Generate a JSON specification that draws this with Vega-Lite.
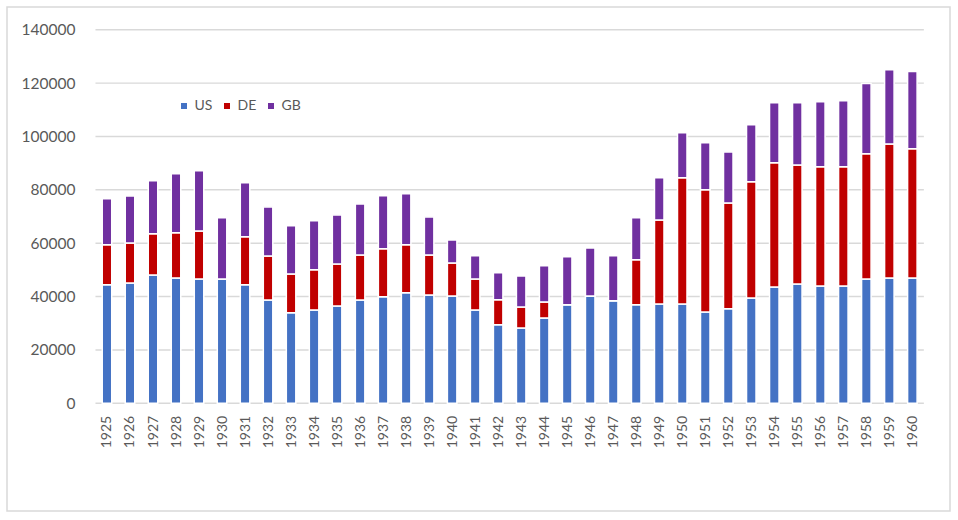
{
  "$schema": "https://vega.github.io/schema/vega-lite/v6.json",
  "width": 943,
  "height": 504,
  "autosize": {"type": "none"},
  "padding": {"left": 7, "top": 7, "right": 8, "bottom": 9},
  "background": "white",
  "config": {
    "view": {"stroke": "#d9d9d9", "strokeWidth": 1.5},
    "font": "Lato",
    "axis": {"labelFont": "Lato", "labelColor": "#595959", "labelOverlap": false, "domain": false, "ticks": false, "grid": false, "title": null},
    "axisX": {"labelAngle": -90, "labelFontSize": 14, "labelPadding": 12, "offset": -107.7, "labelFlush": false, "format": "d"},
    "axisY": {"labelFontSize": 15.5, "labelPadding": 16, "offset": -84, "format": "d"},
    "legend": {"labelFont": "Lato"}
  },
  "datasets": {
    "grid": [
      {"g": 0}, {"g": 20000}, {"g": 40000}, {"g": 60000},
      {"g": 80000}, {"g": 100000}, {"g": 120000}, {"g": 140000}
    ],
    "prod": [
      {"year": 1925, "US": 44400, "DE": 15000, "GB": 17250},
      {"year": 1926, "US": 45100, "DE": 15000, "GB": 17600},
      {"year": 1927, "US": 48100, "DE": 15400, "GB": 19900},
      {"year": 1928, "US": 47000, "DE": 16900, "GB": 22100},
      {"year": 1929, "US": 46600, "DE": 18000, "GB": 22500},
      {"year": 1930, "US": 46600, "DE": 0, "GB": 22900},
      {"year": 1931, "US": 44400, "DE": 18000, "GB": 20250},
      {"year": 1932, "US": 38700, "DE": 16500, "GB": 18400},
      {"year": 1933, "US": 33900, "DE": 14600, "GB": 18000},
      {"year": 1934, "US": 35000, "DE": 15000, "GB": 18400},
      {"year": 1935, "US": 36500, "DE": 15700, "GB": 18400},
      {"year": 1936, "US": 38700, "DE": 16900, "GB": 19100},
      {"year": 1937, "US": 39900, "DE": 18000, "GB": 19900},
      {"year": 1938, "US": 41400, "DE": 18000, "GB": 19100},
      {"year": 1939, "US": 40600, "DE": 15000, "GB": 14250},
      {"year": 1940, "US": 40200, "DE": 12400, "GB": 8600},
      {"year": 1941, "US": 35000, "DE": 11600, "GB": 8650},
      {"year": 1942, "US": 29400, "DE": 9400, "GB": 10100},
      {"year": 1943, "US": 28200, "DE": 7900, "GB": 11600},
      {"year": 1944, "US": 32000, "DE": 6000, "GB": 13500},
      {"year": 1945, "US": 36900, "DE": 0, "GB": 18000},
      {"year": 1946, "US": 40200, "DE": 0, "GB": 18000},
      {"year": 1947, "US": 38400, "DE": 0, "GB": 16900},
      {"year": 1948, "US": 36900, "DE": 16900, "GB": 15700},
      {"year": 1949, "US": 37200, "DE": 31500, "GB": 15800},
      {"year": 1950, "US": 37200, "DE": 47300, "GB": 16900},
      {"year": 1951, "US": 34200, "DE": 45800, "GB": 17600},
      {"year": 1952, "US": 35400, "DE": 39700, "GB": 19100},
      {"year": 1953, "US": 39500, "DE": 43500, "GB": 21400},
      {"year": 1954, "US": 43600, "DE": 46500, "GB": 22500},
      {"year": 1955, "US": 44700, "DE": 44600, "GB": 23300},
      {"year": 1956, "US": 44000, "DE": 44600, "GB": 24400},
      {"year": 1957, "US": 44000, "DE": 44600, "GB": 24800},
      {"year": 1958, "US": 46600, "DE": 46900, "GB": 26300},
      {"year": 1959, "US": 47000, "DE": 50200, "GB": 27800},
      {"year": 1960, "US": 47000, "DE": 48400, "GB": 28900}
    ]
  },
  "layer": [
    {
      "data": {"name": "grid"},
      "mark": {"type": "rule", "color": "#d9d9d9", "strokeWidth": 1.4},
      "encoding": {
        "y": {
          "field": "g", "type": "quantitative",
          "scale": {"domain": [-40360, 148510], "nice": false, "zero": false},
          "axis": {"values": [0, 20000, 40000, 60000, 80000, 100000, 120000, 140000]}
        },
        "x": {
          "datum": 1924.5, "type": "quantitative",
          "scale": {"domain": [1920.872, 1961.419], "nice": false, "zero": false},
          "axis": {"values": [1925,1926,1927,1928,1929,1930,1931,1932,1933,1934,1935,1936,1937,1938,1939,1940,1941,1942,1943,1944,1945,1946,1947,1948,1949,1950,1951,1952,1953,1954,1955,1956,1957,1958,1959,1960]}
        },
        "x2": {"datum": 1960.5}
      }
    },
    {
      "data": {"name": "prod"},
      "transform": [
        {"fold": ["US", "DE", "GB"], "as": ["country", "value"]},
        {"window": [{"op": "row_number", "as": "stackpos"}], "groupby": ["year"]}
      ],
      "mark": {"type": "bar", "size": 9.5, "stroke": "white", "strokeWidth": 1.5},
      "encoding": {
        "x": {
          "field": "year", "type": "quantitative",
          "axis": {"values": [1925,1926,1927,1928,1929,1930,1931,1932,1933,1934,1935,1936,1937,1938,1939,1940,1941,1942,1943,1944,1945,1946,1947,1948,1949,1950,1951,1952,1953,1954,1955,1956,1957,1958,1959,1960]}
        },
        "y": {
          "field": "value", "type": "quantitative", "stack": "zero",
          "axis": {"values": [0, 20000, 40000, 60000, 80000, 100000, 120000, 140000]}
        },
        "color": {
          "field": "country", "type": "nominal", "sort": ["US", "DE", "GB"],
          "scale": {"domain": ["US", "DE", "GB"], "range": ["#4472c4", "#c00000", "#7030a0"]},
          "legend": {
            "title": null, "orient": "none", "legendX": 170, "legendY": 92,
            "direction": "horizontal", "symbolType": "square", "symbolSize": 36,
            "symbolStrokeWidth": 0, "labelFontSize": 14, "labelColor": "#595959",
            "labelOffset": 3.5, "columnPadding": 7, "padding": 0
          }
        },
        "order": {"field": "stackpos", "type": "quantitative", "sort": "ascending"}
      }
    }
  ]
}
